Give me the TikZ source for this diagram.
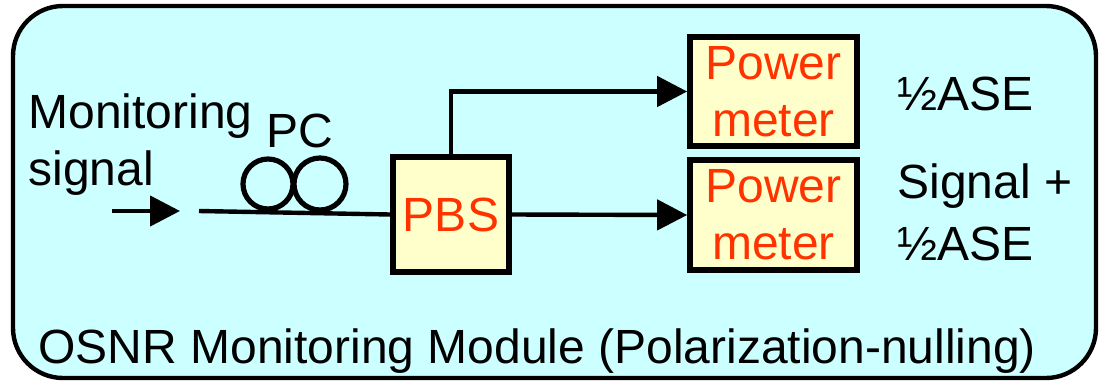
\documentclass[tikz,border=0pt]{standalone}
\usepackage{fontspec}
\setmainfont{Liberation Sans}
\usetikzlibrary{arrows.meta}
\definecolor{modfill}{RGB}{204,255,255}
\definecolor{boxfill}{RGB}{255,255,204}
\definecolor{boxtext}{RGB}{255,51,0}
\tikzset{
  lbl/.style={anchor=base west, inner sep=0pt, font=\fontsize{24}{28}\selectfont},
  block/.style={draw, line width=2.8pt, fill=boxfill, text=boxtext, inner sep=0pt,
    align=center, font=\fontsize{24}{28.5}\selectfont},
  conn/.style={line width=2.2pt, -{Triangle[length=15pt,width=15pt]}},
  fiber/.style={line width=2.2pt},
  coil/.style={line width=2.6pt}
}
\begin{document}
\begin{tikzpicture}[x=0.5pt,y=-0.5pt]
\useasboundingbox (0,0) rectangle (1100,382);
\draw[line width=2.2pt, fill=modfill, rounded corners=25pt] (13,6) rectangle (1096,378);
\node[lbl] (mon) at (28,128) {Monitoring};
\node[lbl] (sig) at (28,185) {signal};
\node[lbl] (pc) at (266,147) {PC};
\node[block, minimum width=58pt, minimum height=57.5pt] (pbs) at (451,214.5) {PBS};
\node[block, minimum width=83.5pt, minimum height=54.5pt] (pm1) at (773.5,91.5) {Power\\meter};
\node[block, minimum width=83.5pt, minimum height=55pt] (pm2) at (773.5,215) {Power\\meter};
\node[lbl] (t1) at (897,110) {½ASE};
\node[lbl] (t2) at (897,198) {Signal +};
\node[lbl] (t3) at (897,260) {½ASE};
\node[lbl] (osnr) at (38,363) {OSNR Monitoring Module (Polarization-nulling)};
\coordinate (ina) at (112,211);
\coordinate (inb) at (180,211);
\coordinate (fa) at (199,211);
\draw[conn] (ina) -- (inb);
\draw[fiber] (fa) -- (pbs.west);
\node[coil, draw, circle, minimum size=25pt, inner sep=0pt] (c1) at (268,184) {};
\node[coil, draw, circle, minimum size=26pt, inner sep=0pt] (c2) at (320,184) {};
\draw[conn] (pbs.north) |- (pm1.west);
\draw[conn] (pbs.east) -- (pm2.west);
\end{tikzpicture}
\end{document}
